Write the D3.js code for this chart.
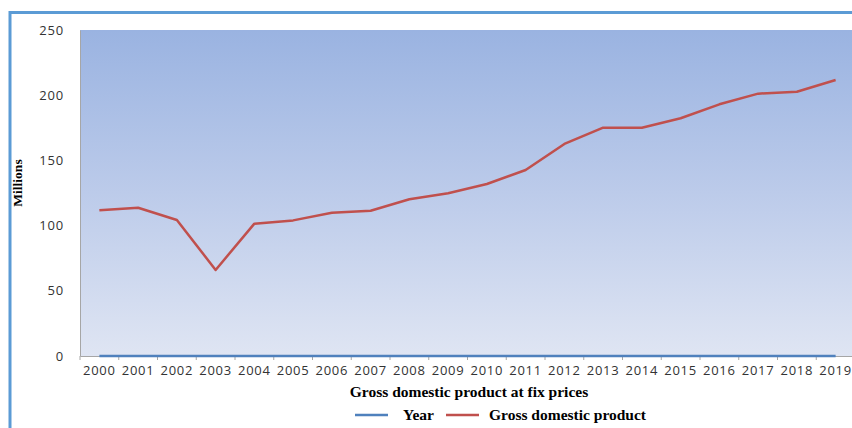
<html>
  <script src="https://d3js.org/d3.v7.min.js"></script>
  <body style="margin:0">
    <script>
      // chart values
      let years = ["2000", "2001", "2002", "2003", "2004", "2005", "2006", "2007", "2008", "2009",
                   "2010", "2011", "2012", "2013", "2014", "2015", "2016", "2017", "2018", "2019"];
      let gdp = [111.7, 113.7, 104.3, 66, 101.5, 104, 109.9, 111.4, 120.2, 124.8,
                 131.9, 142.6, 162.6, 175.1, 175.1, 182.3, 193, 201.2, 202.7, 211.7];
      // the "Year" series is drawn flat along the zero line in the original
      let yearSeries = [0, 0, 0, 0, 0, 0, 0, 0, 0, 0, 0, 0, 0, 0, 0, 0, 0, 0, 0, 0];
      let yTicks = [0, 50, 100, 150, 200, 250];
      let seriesNames = ["Year", "Gross domestic product"];

      let width = 852;
      let height = 428;
      let svg = d3.select("body").append("svg")
                  .attr("width", width)
                  .attr("height", height);

      // outer frame (cropped at right and bottom)
      svg.append("rect")
         .attr("x", 10).attr("y", 12.5)
         .attr("width", 900).attr("height", 500)
         .attr("fill", "white")
         .attr("stroke", "#5b9bd5")
         .attr("stroke-width", 3);

      let plotLeft = 80, plotTop = 30, plotRight = 855, plotBottom = 356;
      let x = d3.scaleBand().domain(years).range([plotLeft, plotRight]).padding(0);
      let y = d3.scaleLinear().domain([0, 250]).range([plotBottom, plotTop]);

      // plot area gradient
      let grad = svg.append("defs").append("linearGradient")
                    .attr("id", "bg").attr("x1", 0).attr("y1", 0).attr("x2", 0).attr("y2", 1);
      grad.append("stop").attr("offset", "0%").attr("stop-color", "#9ab3e1");
      grad.append("stop").attr("offset", "50%").attr("stop-color", "#bccbea");
      grad.append("stop").attr("offset", "100%").attr("stop-color", "#dfe5f3");
      svg.append("rect")
         .attr("x", plotLeft).attr("y", plotTop)
         .attr("width", plotRight - plotLeft).attr("height", plotBottom - plotTop)
         .attr("fill", "url(#bg)");

      // y axis
      let yAxis = svg.append("g")
                     .attr("transform", `translate(${plotLeft},0)`)
                     .call(d3.axisLeft(y).tickValues(yTicks).tickSize(0).tickPadding(16));
      yAxis.select(".domain").attr("stroke", "#a6a6a6");
      yAxis.selectAll("text")
           .attr("font-family", "Open Sans")
           .attr("font-size", "13px")
           .attr("letter-spacing", "0.8px")
           .attr("fill", "#333");

      // x axis with ticks between categories
      let xAxis = svg.append("g")
                     .attr("transform", `translate(0,${plotBottom})`)
                     .call(d3.axisBottom(x).tickSize(0).tickPadding(10));
      xAxis.select(".domain").attr("stroke", "#a6a6a6");
      xAxis.selectAll("text")
           .attr("font-family", "Open Sans")
           .attr("font-size", "13px")
           .attr("letter-spacing", "0.8px")
           .attr("fill", "#333");
      years.forEach(yr => {
        svg.append("line")
           .attr("x1", x(yr)).attr("x2", x(yr))
           .attr("y1", plotBottom).attr("y2", plotBottom + 4)
           .attr("stroke", "#a6a6a6");
      });

      let line = d3.line()
                   .x((d, i) => x(years[i]) + x.bandwidth() / 2)
                   .y(d => y(d));

      svg.append("path")
         .attr("d", line(yearSeries))
         .attr("fill", "none")
         .attr("stroke", "#4f81bd")
         .attr("stroke-width", 2.5);
      svg.append("path")
         .attr("d", line(gdp))
         .attr("fill", "none")
         .attr("stroke", "#c0504d")
         .attr("stroke-width", 2.5)
         .attr("stroke-linejoin", "round");

      // axis titles
      svg.append("text")
         .attr("transform", "translate(22,183) rotate(-90)")
         .attr("text-anchor", "middle")
         .attr("font-family", "Liberation Serif")
         .attr("font-weight", "bold")
         .attr("font-size", "13.5px")
         .text("Millions");
      svg.append("text")
         .attr("x", 469).attr("y", 397)
         .attr("text-anchor", "middle")
         .attr("font-family", "Liberation Serif")
         .attr("font-weight", "bold")
         .attr("font-size", "15.5px")
         .text("Gross domestic product at fix prices");

      // legend
      let legendLineX = [355, 446];
      let legendTextX = [403, 489];
      let colors = ["#4f81bd", "#c0504d"];
      seriesNames.forEach((name, i) => {
        svg.append("line")
           .attr("x1", legendLineX[i]).attr("x2", legendLineX[i] + 33)
           .attr("y1", 415).attr("y2", 415)
           .attr("stroke", colors[i])
           .attr("stroke-width", 2.5);
        svg.append("text")
           .attr("x", legendTextX[i]).attr("y", 420)
           .attr("font-family", "Liberation Serif")
           .attr("font-weight", "bold")
           .attr("font-size", "15.5px")
           .text(name);
      });
    </script>
  </body>
</html>
